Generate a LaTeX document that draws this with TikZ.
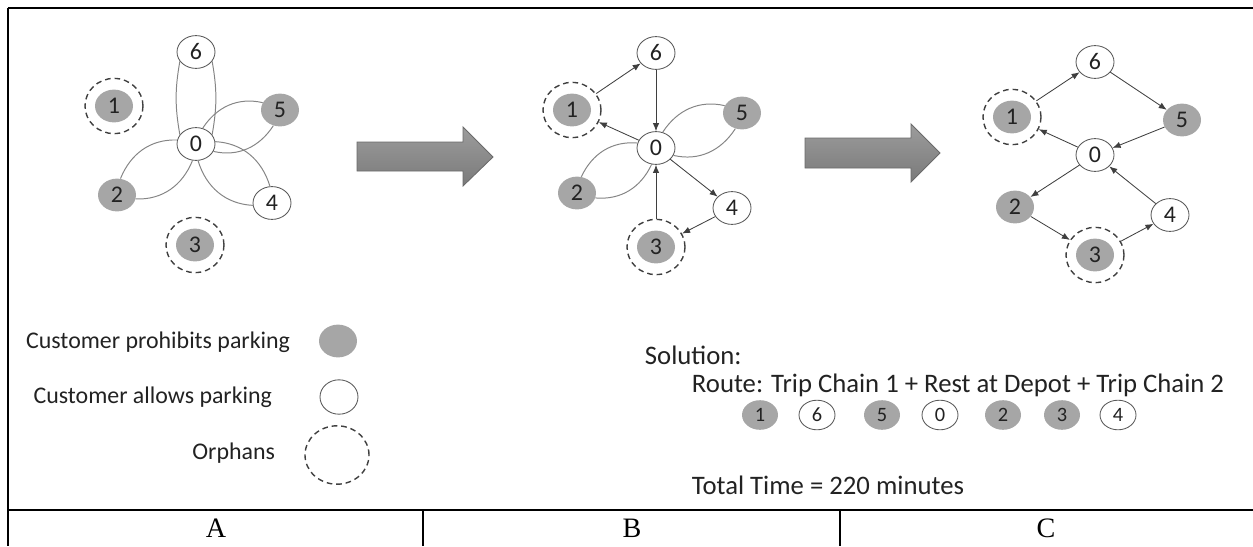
\documentclass[tikz,border=0pt]{standalone}
\usepackage{fontspec}
\setmainfont{Carlito}
\newfontfamily\cellfont{Liberation Serif}
\usetikzlibrary{arrows.meta,shapes.geometric}
\definecolor{nodegray}{HTML}{A6A6A6}
\definecolor{rimgray}{HTML}{595959}
\definecolor{loopgray}{HTML}{858585}
\definecolor{arrowink}{HTML}{3F3F3F}
\definecolor{ringink}{HTML}{404040}
\definecolor{inkblack}{HTML}{222222}
\definecolor{blockhi}{HTML}{9C9C9C}
\definecolor{blocklo}{HTML}{7A7A7A}
\definecolor{blockrim}{HTML}{6A6A6A}

\begin{document}
\begin{tikzpicture}[
    font=\fontsize{17}{20}\selectfont,
    >={Latex[length=2mm,width=1.6mm]},
    cust/.style={ellipse, inner sep=0pt, minimum width=9.5mm, minimum height=8.2mm, text=inkblack},
    nopark/.style={cust, fill=nodegray},
    park/.style={cust, draw=rimgray, fill=white, line width=0.6pt},
    orphan/.style={ellipse, draw=ringink, line width=1pt, dash pattern=on 4pt off 2.8pt, minimum width=14.5mm, minimum height=13.8mm},
    petal/.style={draw=loopgray, line width=0.7pt},
    arrow/.style={draw=arrowink, ->, line width=0.6pt},
    bigarrow/.style={draw=blockrim, line width=0.6pt, top color=blockhi, bottom color=blocklo},
    legend/.style={anchor=east, text=inkblack},
    soltext/.style={anchor=west, text=inkblack, font=\fontsize{19}{23}\selectfont},
    seqnopark/.style={nopark, minimum width=9mm, minimum height=7.4mm, font=\fontsize{14.5}{17}\selectfont},
    seqpark/.style={park, minimum width=9mm, minimum height=7.4mm, font=\fontsize{14.5}{17}\selectfont},
    cell/.style={font=\cellfont\fontsize{20}{23}\selectfont},
    frame/.style={black, line width=1pt},
]
    \useasboundingbox (0,0) rectangle (31.325,-13.65);

    % =====================================================================
    % TABLE FRAME
    % =====================================================================
    \draw[frame] (0.2,-0.2) -- (31.325,-0.2);
    \draw[frame] (0.2,-12.75) -- (31.325,-12.75);
    \draw[frame, line width=1.4pt] (0.2,-0.2) -- (0.2,-13.65);
    \draw[frame, line width=1.4pt] (10.575,-12.75) -- (10.575,-13.65);
    \draw[frame, line width=1.4pt] (21.0,-12.75) -- (21.0,-13.65);

    \node[cell] (capA) at (5.4,-13.2) {A};
    \node[cell] (capB) at (15.8,-13.2) {B};
    \node[cell] (capC) at (26.15,-13.2) {C};

    % =====================================================================
    % A: depot with out-and-back trips
    % =====================================================================
    \node[park] (a0) at (4.9,-3.6) {0};
    \node[park] (a6) at (4.9,-1.3) {6};
    \node[nopark] (a1) at (2.85,-2.65) {1};
    \node[orphan] (a1o) at (2.85,-2.65) {};
    \node[nopark] (a5) at (7.0,-2.75) {5};
    \node[nopark] (a2) at (2.925,-4.875) {2};
    \node[park] (a4) at (6.8,-5.075) {4};
    \node[nopark] (a3) at (4.875,-6.125) {3};
    \node[orphan] (a3o) at (4.875,-6.125) {};

    \draw[petal] (a0.150) to[out=100,in=260] (a6.210);
    \draw[petal] (a0.30) to[out=80,in=280] (a6.330);
    \draw[petal] (a0.67) to[out=57,in=167] (a5.157);
    \draw[petal] (a0.337) to[out=347,in=237] (a5.247);
    \draw[petal] (a0.258) to[out=248,in=358] (a2.348);
    \draw[petal] (a0.168) to[out=178,in=68] (a2.78);
    \draw[petal] (a0.7) to[out=357,in=107] (a4.97);
    \draw[petal] (a0.277) to[out=287,in=177] (a4.187);

    \draw[bigarrow] (8.925,-3.55) -- (11.575,-3.55) -- (11.575,-3.175) -- (12.325,-3.925)
        -- (11.575,-4.65) -- (11.575,-4.275) -- (8.925,-4.275) -- cycle;

    % =====================================================================
    % B: orphans chained in
    % =====================================================================
    \node[park] (b0) at (16.4,-3.7) {0};
    \node[park] (b6) at (16.4,-1.325) {6};
    \node[nopark] (b1) at (14.3,-2.75) {1};
    \node[orphan] (b1o) at (14.3,-2.75) {};
    \node[nopark] (b5) at (18.55,-2.825) {5};
    \node[nopark] (b2) at (14.425,-4.825) {2};
    \node[park] (b4) at (18.3,-5.2) {4};
    \node[nopark] (b3) at (16.4,-6.175) {3};
    \node[orphan] (b3o) at (16.4,-6.175) {};

    \draw[petal] (b0.67) to[out=57,in=167] (b5.157);
    \draw[petal] (b0.337) to[out=347,in=237] (b5.247);
    \draw[petal] (b0.255) to[out=245,in=355] (b2.345);
    \draw[petal] (b0.165) to[out=175,in=65] (b2.75);

    \draw[arrow] (b1o) -- (b6);
    \draw[arrow] (b6) -- (b0);
    \draw[arrow] (b0) -- (b1o);
    \draw[arrow] (b0) -- (b4);
    \draw[arrow] (b4) -- (b3o);
    \draw[arrow] (b3o) -- (b0);

    \draw[bigarrow] (20.125,-3.45) -- (22.775,-3.45) -- (22.775,-3.1) -- (23.5,-3.825)
        -- (22.775,-4.55) -- (22.775,-4.2) -- (20.125,-4.2) -- cycle;

    % =====================================================================
    % C: two trip chains through the depot
    % =====================================================================
    \node[park] (c0) at (27.375,-3.875) {0};
    \node[park] (c6) at (27.375,-1.55) {6};
    \node[nopark] (c1) at (25.3,-2.925) {1};
    \node[orphan] (c1o) at (25.3,-2.925) {};
    \node[nopark] (c5) at (29.55,-3.0) {5};
    \node[nopark] (c2) at (25.375,-5.175) {2};
    \node[park] (c4) at (29.25,-5.375) {4};
    \node[nopark] (c3) at (27.375,-6.375) {3};
    \node[orphan] (c3o) at (27.375,-6.375) {};

    \draw[arrow] (c1o) -- (c6);
    \draw[arrow] (c6) -- (c5);
    \draw[arrow] (c5) -- (c0);
    \draw[arrow] (c0) -- (c1o);
    \draw[arrow] (c0) -- (c2);
    \draw[arrow] (c2) -- (c3o);
    \draw[arrow] (c3o) -- (c4);
    \draw[arrow] (c4) -- (c0);

    % =====================================================================
    % LEGEND
    % =====================================================================
    \node[legend] (lpark_no) at (7.375,-8.55) {Customer prohibits parking};
    \node[nopark] (lpark_no_sym) at (8.45,-8.525) {};
    \node[legend] (lpark_yes) at (6.925,-9.925) {Customer allows parking};
    \node[park, minimum height=8.6mm] (lpark_yes_sym) at (8.475,-9.925) {};
    \node[legend] (lorphan) at (7.0,-11.325) {Orphans};
    \node[orphan, minimum width=16mm, minimum height=14.6mm] (lorphan_sym) at (8.425,-11.375) {};

    % =====================================================================
    % SOLUTION
    % =====================================================================
    \node[soltext] (sol) at (16.0,-8.875) {Solution:};
    \node[soltext] (route) at (17.175,-9.625) {Route: Trip Chain 1 + Rest at Depot + Trip Chain 2};

    \node[seqnopark] (s1) at (19.0,-10.375) {1};
    \node[seqpark] (s2) at (20.425,-10.375) {6};
    \node[seqnopark] (s3) at (22.05,-10.375) {5};
    \node[seqpark] (s4) at (23.5,-10.375) {0};
    \node[seqnopark] (s5) at (25.075,-10.375) {2};
    \node[seqnopark] (s6) at (26.55,-10.375) {3};
    \node[seqpark] (s7) at (27.95,-10.375) {4};

    \node[soltext] (total) at (17.175,-12.125) {Total Time = 220 minutes};

\end{tikzpicture}
\end{document}
